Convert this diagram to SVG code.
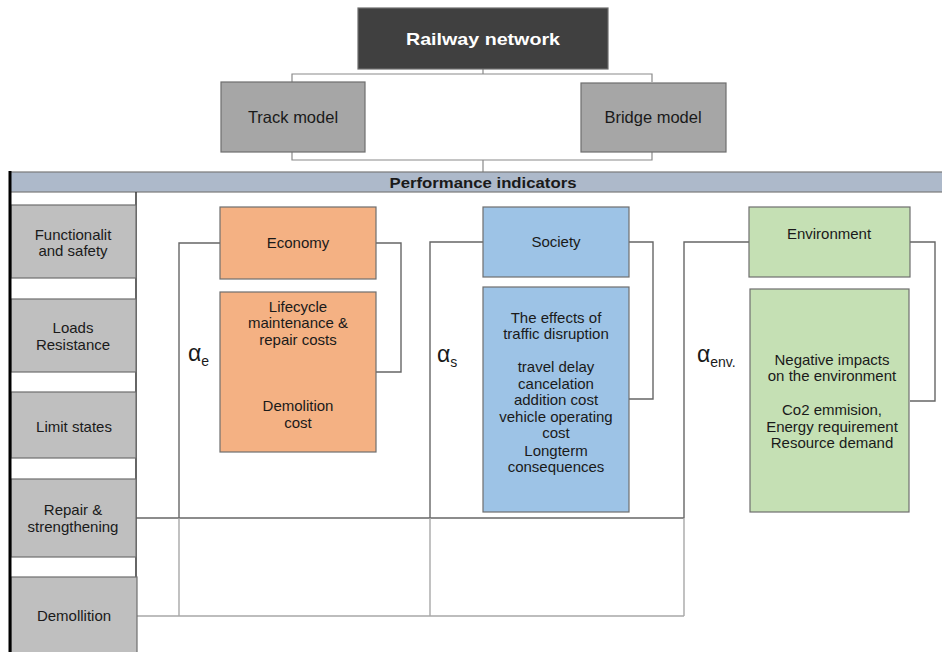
<svg xmlns="http://www.w3.org/2000/svg" width="942" height="652" viewBox="0 0 942 652">
<style>
text{font-family:"Liberation Sans",Arial,sans-serif;fill:#1a1a1a;text-anchor:middle}
.b{font-size:15px}
.hd{font-size:16.5px}
.box{stroke:#6e6e6e;stroke-width:1.2}
.side{fill:#bfbfbf;stroke:#6e6e6e;stroke-width:1.2}
.eco{fill:#f4b183}
.soc{fill:#9dc3e6}
.env{fill:#c5e0b4}
.c{fill:none;stroke:#8a8a8a;stroke-width:1.2}
.d{fill:none;stroke:#666;stroke-width:1.4}
.l{fill:none;stroke:#a8a8a8;stroke-width:1.4}
.al{font-size:23px}
.sub{font-size:14px}
</style>
<rect width="942" height="652" fill="#fff"/>
<g id="connectors">
<path class="c" d="M483 69V74M292 82V74H652V82"/>
<path class="c" d="M292 152V160H652V152M483 160V172"/>
<path class="d" d="M220 243H179V518M376 243H401V372H376"/>
<path class="d" d="M483 242H430V518M629 242H653V399H629"/>
<path class="d" d="M749 242H684V518M910 242H935V401H910"/>
<path class="d" d="M136 518H684"/>
<path class="l" d="M179 518V616M430 518V616M684 518V616M136 616H684"/>
</g>
<g id="railway">
<rect class="box" x="358" y="8" width="250" height="61" fill="#404040" stroke="#777"/>
<text x="483" y="45" style="font-size:17px;font-weight:bold;fill:#fff" textLength="154" lengthAdjust="spacingAndGlyphs">Railway network</text>
</g>
<g id="track">
<rect class="box" x="221" y="82" width="144" height="70" fill="#a6a6a6" stroke="#555"/>
<text class="hd" x="293" y="123">Track model</text>
</g>
<g id="bridge">
<rect class="box" x="581" y="83" width="145" height="69" fill="#a6a6a6" stroke="#555"/>
<text class="hd" x="653" y="123">Bridge model</text>
</g>
<g id="performance">
<rect x="10" y="172" width="934" height="20" fill="#adb9ca" stroke="#7a7a7a" stroke-width="1.2"/>
<text x="483" y="188" style="font-size:14px;font-weight:bold" textLength="187" lengthAdjust="spacingAndGlyphs">Performance indicators</text>
</g>
<g id="column">
<path d="M136 192V652" stroke="#333" stroke-width="1.5" fill="none"/>
</g>
<g id="functionality">
<rect class="side" x="11" y="205" width="125" height="73"/>
<text class="b" x="73" y="240">Functionalit</text>
<text class="b" x="73" y="256">and safety</text>
</g>
<g id="loads">
<rect class="side" x="11" y="299" width="125" height="73"/>
<text class="b" x="73" y="333">Loads</text>
<text class="b" x="73" y="350">Resistance</text>
</g>
<g id="limit">
<rect class="side" x="11" y="392" width="125" height="66"/>
<text class="b" x="74" y="432">Limit states</text>
</g>
<g id="repair">
<rect class="side" x="11" y="479" width="125" height="78"/>
<text class="b" x="73" y="515">Repair &amp;</text>
<text class="b" x="73" y="532">strengthening</text>
</g>
<g id="demollition">
<rect class="side" x="11" y="577" width="126" height="78"/>
<text class="b" x="74" y="621">Demollition</text>
</g>
<path d="M10 171V652" stroke="#000" stroke-width="3" fill="none"/>
<g id="economy">
<rect class="box eco" x="220" y="207" width="156" height="72"/>
<text class="b" x="298" y="248">Economy</text>
</g>
<g id="economy-details">
<rect class="box eco" x="220" y="292" width="156" height="160"/>
<text class="b" x="298" y="312">Lifecycle</text>
<text class="b" x="298" y="328">maintenance &amp;</text>
<text class="b" x="298" y="345">repair costs</text>
<text class="b" x="298" y="411">Demolition</text>
<text class="b" x="298" y="428">cost</text>
</g>
<g id="society">
<rect class="box soc" x="483" y="207" width="146" height="70"/>
<text class="b" x="556" y="247">Society</text>
</g>
<g id="society-details">
<rect class="box soc" x="483" y="287" width="146" height="225"/>
<text class="b" x="556" y="323">The effects of</text>
<text class="b" x="556" y="339">traffic disruption</text>
<text class="b" x="556" y="372">travel delay</text>
<text class="b" x="556" y="389">cancelation</text>
<text class="b" x="556" y="405">addition cost</text>
<text class="b" x="556" y="422">vehicle operating</text>
<text class="b" x="556" y="438">cost</text>
<text class="b" x="556" y="456">Longterm</text>
<text class="b" x="556" y="472">consequences</text>
</g>
<g id="environment">
<rect class="box env" x="749" y="207" width="161" height="70"/>
<text class="b" x="829" y="239">Environment</text>
</g>
<g id="environment-details">
<rect class="box env" x="750" y="289" width="159" height="223"/>
<text class="b" x="832" y="365">Negative impacts</text>
<text class="b" x="832" y="381">on the environment</text>
<text class="b" x="832" y="415">Co2 emmision,</text>
<text class="b" x="832" y="432">Energy requirement</text>
<text class="b" x="832" y="448">Resource demand</text>
</g>
<g id="alpha-e">
<text x="188" y="361" style="text-anchor:start"><tspan class="al">α</tspan><tspan class="sub" dy="5">e</tspan></text>
</g>
<g id="alpha-s">
<text x="437" y="362" style="text-anchor:start"><tspan class="al">α</tspan><tspan class="sub" dy="5">s</tspan></text>
</g>
<g id="alpha-env">
<text x="697" y="362" style="text-anchor:start"><tspan class="al">α</tspan><tspan class="sub" dy="5">env.</tspan></text>
</g>
</svg>
